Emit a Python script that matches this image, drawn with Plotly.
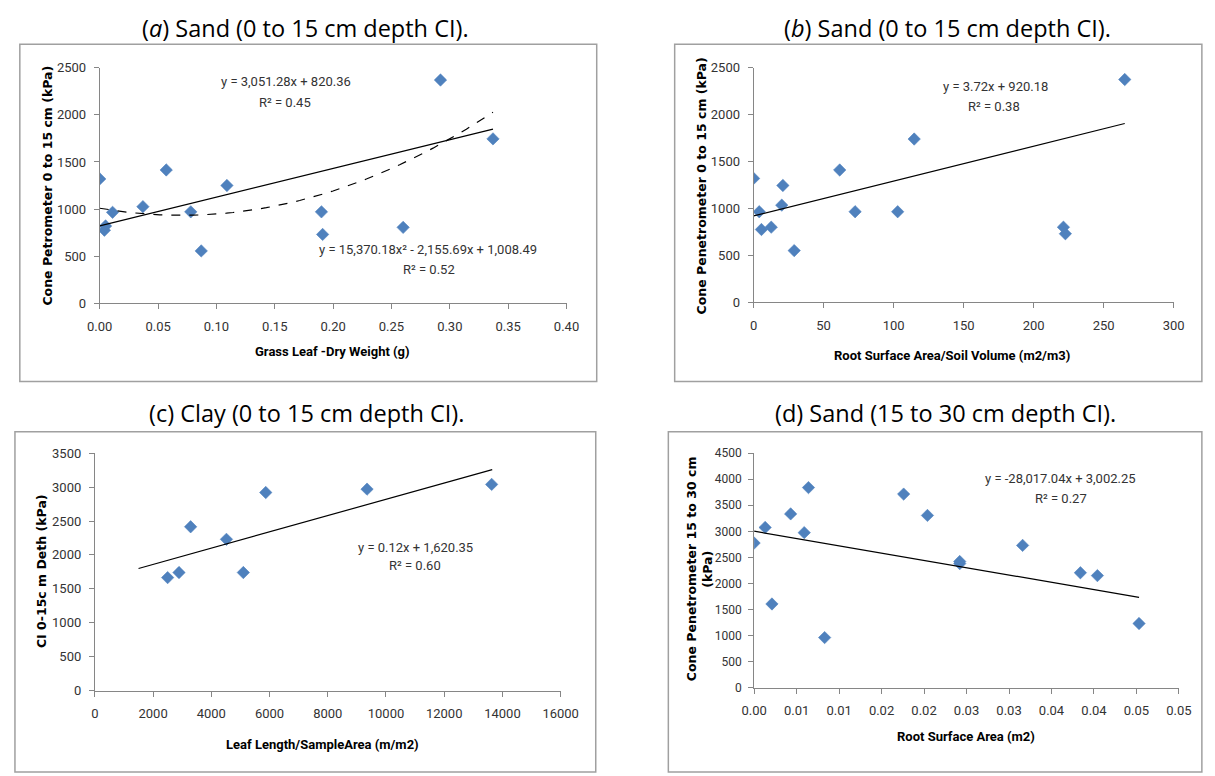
import numpy as np
import plotly.graph_objects as go

W, H = 1215, 776

# ---------------- data ----------------
# (a) Sand 0-15 cm: Grass leaf dry weight (g) vs cone penetrometer (kPa)
a_x = [0.000, 0.004, 0.005, 0.011, 0.037, 0.057, 0.078, 0.087, 0.109, 0.190, 0.191, 0.260, 0.292, 0.337]
a_y = [1320, 775, 820, 965, 1025, 1415, 970, 555, 1250, 970, 730, 805, 2370, 1745]
a_lin = [3051.28, 820.36]
a_quad = [15370.18, -2155.69, 1008.49]
a_span = [0.0, 0.337]

# (b) Sand 0-15 cm: Root surface area / soil volume (m2/m3)
b_x = [0.0, 4.0, 5.6, 12.6, 20.1, 20.9, 29.0, 61.5, 72.5, 102.9, 114.7, 221.3, 222.7, 265.1]
b_y = [1320, 965, 775, 800, 1035, 1245, 550, 1410, 965, 965, 1740, 800, 730, 2375]
b_lin = [3.72, 920.18]
b_span = [0.0, 265.1]

# (c) Clay 0-15 cm: Leaf length / sample area (m/m2)
c_x = [2500, 2890, 3290, 4520, 5100, 5870, 9350, 13630]
c_y = [1665, 1740, 2415, 2230, 1740, 2920, 2970, 3040]
c_lin = [0.12, 1620.35]
c_span = [1500, 13650]

# (d) Sand 15-30 cm: Root surface area (m2)
d_x = [0.0000, 0.0013, 0.0021, 0.0043, 0.0059, 0.0064, 0.0083, 0.0176, 0.0204,
       0.0242, 0.0242, 0.0316, 0.0384, 0.0404, 0.0453]
d_y = [2775, 3075, 1605, 3335, 2975, 3840, 960, 3715, 3305, 2380, 2420, 2730, 2205, 2150, 1230]
d_lin = [-28017.04, 3002.25]
d_span = [0.0, 0.0453]
d_tickvals = [0.000, 0.005, 0.010, 0.015, 0.020, 0.025, 0.030, 0.035, 0.040, 0.045, 0.050]
d_ticktext = ["0.00", "0.01", "0.01", "0.02", "0.02", "0.03", "0.03", "0.04", "0.04", "0.05", "0.05"]

# ---------------- styling ----------------
NARROW = "Roboto"
TITLEF = "Open Sans"
YTF = "DejaVu Sans"
BLUE = "#4F81BD"
AXC = "#868686"
TXT = "#333333"


def fx(p):
    return p / W


def fy(p):
    return 1 - p / H


fig = go.Figure()

marker = dict(symbol="diamond", size=9.5, color=BLUE, line=dict(width=0.6, color=BLUE))


def add_panel(i, xs, ys, span, lin, quad=None):
    xa = "x" if i == 1 else f"x{i}"
    ya = "y" if i == 1 else f"y{i}"
    fig.add_trace(go.Scatter(x=xs, y=ys, mode="markers", marker=marker,
                             xaxis=xa, yaxis=ya, showlegend=False))
    tx = np.array(span)
    fig.add_trace(go.Scatter(x=tx, y=lin[0] * tx + lin[1], mode="lines",
                             line=dict(color="black", width=1.2),
                             xaxis=xa, yaxis=ya, showlegend=False))
    if quad is not None:
        qx = np.linspace(span[0], span[1], 60)
        qy = quad[0] * qx ** 2 + quad[1] * qx + quad[2]
        fig.add_trace(go.Scatter(x=qx, y=qy, mode="lines",
                                 line=dict(color="black", width=1.2, dash="dash"),
                                 xaxis=xa, yaxis=ya, showlegend=False))


add_panel(1, a_x, a_y, a_span, a_lin, a_quad)
add_panel(2, b_x, b_y, b_span, b_lin)
add_panel(3, c_x, c_y, c_span, c_lin)
add_panel(4, d_x, d_y, d_span, d_lin)


def axis(domain, rng, anchor, standoff, fsize=13, **kw):
    d = dict(domain=domain, range=rng, anchor=anchor, showline=True, linecolor=AXC,
             linewidth=1, ticks="outside", ticklen=5, tickcolor=AXC, showgrid=False,
             zeroline=False, ticklabelstandoff=standoff,
             tickfont=dict(family=NARROW, size=fsize, color=TXT))
    d.update(kw)
    return d


# pixel positions of plot areas
pa = dict(x0=89, x1=568, y0=62, y1=302)
pb = dict(x0=760, x1=1191, y0=62, y1=301)
pc = dict(x0=84, x1=562, y0=455, y1=697)
pd_ = dict(x0=760.5, x1=1196.5, y0=455, y1=694)


def dom(p):
    return [fx(p["x0"]), fx(p["x1"])], [fy(p["y1"]), fy(p["y0"])]


xa_, ya_ = dom(pa)
xb_, yb_ = dom(pb)
xc_, yc_ = dom(pc)
xd_, yd_ = dom(pd_)

XS, YS = 6, 5
fig.update_layout(
    width=W, height=H,
    margin=dict(l=0, r=0, t=0, b=0),
    paper_bgcolor="white", plot_bgcolor="white",
    xaxis=axis(xa_, [0, 0.4], "y", XS, dtick=0.05, tickformat=".2f"),
    yaxis=axis(ya_, [0, 2500], "x", YS, dtick=500),
    xaxis2=axis(xb_, [0, 300], "y2", XS, dtick=50),
    yaxis2=axis(yb_, [0, 2500], "x2", YS, dtick=500),
    xaxis3=axis(xc_, [0, 16000], "y3", XS, dtick=2000, tickformat="d"),
    yaxis3=axis(yc_, [0, 3500], "x3", YS, dtick=500),
    xaxis4=axis(xd_, [0, 0.05], "y4", XS, tickvals=d_tickvals, ticktext=d_ticktext),
    yaxis4=axis(yd_, [0, 4500], "x4", 4, fsize=12, dtick=500),
)

ann = []


def text(x, y, s, size, family, color="black", angle=0, weight="normal", **kw):
    d = dict(x=fx(x), y=fy(y), xref="paper", yref="paper", text=s, showarrow=False,
             textangle=angle,
             font=dict(size=size, family=family, color=color, weight=weight),
             xanchor="center", yanchor="middle")
    d.update(kw)
    ann.append(d)


# panel titles
TS = 23.5
text(300, 21, "(<i>a</i>) Sand (0 to 15 cm depth CI).", TS, TITLEF, weight=500)
text(959, 21, "(<i>b</i>) Sand (0 to 15 cm depth CI).", TS, TITLEF, weight=500)
text(301, 414, "(c) Clay (0 to 15 cm depth CI).", TS, TITLEF, weight=500)
text(957, 414, "(d) Sand (15 to 30 cm depth CI).", TS, TITLEF, weight=500)

# x-axis titles
XT = 13
text(328, 351, "Grass Leaf -Dry Weight (g)", XT, NARROW, weight="bold")
text(964, 355, "Root Surface Area/Soil Volume (m2/m3)", XT, NARROW, weight="bold")
text(318, 752, "Leaf Length/SampleArea (m/m2)", XT, NARROW, weight="bold")
text(978, 744, "Root Surface Area (m2)", XT, NARROW, weight="bold")

# y-axis titles
YT = 12.5
text(35, 182, "Cone Petrometer 0 to 15 cm (kPa)", YT, YTF, angle=-90, weight="bold")
text(707, 182, "Cone Penetrometer 0 to 15 cm (kPa)", YT, YTF, angle=-90, weight="bold")
text(30, 575, "CI 0-15c m Deth (kPa)", YT, YTF, angle=-90, weight="bold")
text(697, 573, "Cone Penetrometer 15 to 30 cm", YT, YTF, angle=-90, weight="bold")
text(713, 573, "(kPa)", YT, YTF, angle=-90, weight="bold")

# equations
EQ = 13
text(280, 76, "y = 3,051.28x + 820.36", EQ, NARROW, TXT)
text(279, 97, "R² = 0.45", EQ, NARROW, TXT)
text(426, 247, "y = 15,370.18x² - 2,155.69x + 1,008.49", EQ, NARROW, TXT)
text(427, 268, "R² = 0.52", EQ, NARROW, TXT)
text(1008, 81, "y = 3.72x + 920.18", EQ, NARROW, TXT)
text(1007, 101, "R² = 0.38", EQ, NARROW, TXT)
text(413, 551, "y = 0.12x + 1,620.35", EQ, NARROW, TXT)
text(413, 570, "R² = 0.60", EQ, NARROW, TXT)
text(1075, 481, "y = -28,017.04x + 3,002.25", EQ, NARROW, TXT)
text(1075, 501, "R² = 0.27", EQ, NARROW, TXT)

fig.update_layout(annotations=ann)

# chart frames
BOX = dict(color="#a0a0a0", width=1.5)
shapes = []
for (x0, y0, x1, y1) in [(7, 38, 599, 382), (679, 38, 1220, 382),
                         (2, 433, 598, 780), (672.5, 433, 1220, 780)]:
    shapes.append(dict(type="rect", xref="paper", yref="paper",
                       x0=fx(x0), x1=fx(x1), y0=fy(y1), y1=fy(y0),
                       line=BOX, fillcolor="rgba(0,0,0,0)", layer="below"))
fig.update_layout(shapes=shapes)

fig.write_html("out.html")
